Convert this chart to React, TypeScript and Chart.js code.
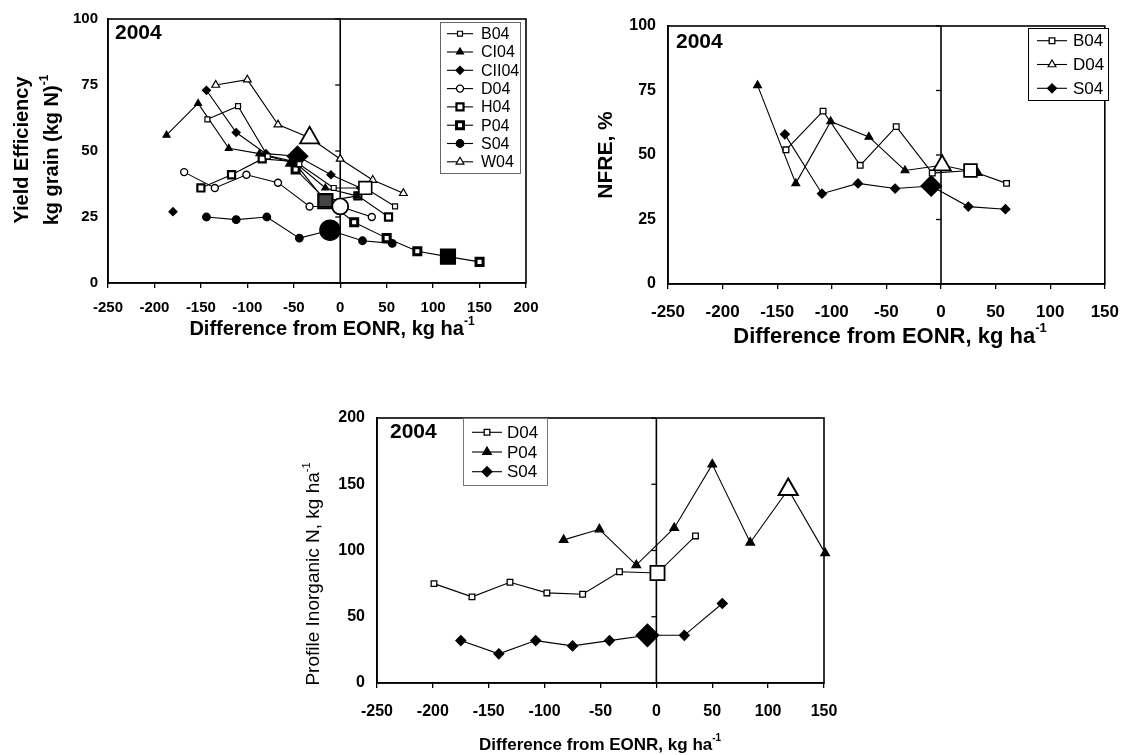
import React, { useEffect, useRef } from "react";
import { Chart, registerables } from "chart.js";
import { drawPoint } from "chart.js/helpers";

Chart.register(...registerables);

const FONT = '"Liberation Sans", Arial, Helvetica, sans-serif';

// ---------------- Panel A : Yield efficiency ----------------
const aXTicks = [-250, -200, -150, -100, -50, 0, 50, 100, 150, 200];
const aYTicks = [0, 25, 50, 75, 100];
const aB04X = [-143, -110, -78, -44, -7, 27, 59];
const aB04Y = [62, 67, 48, 45, 36, 36, 29];
const aB04Eonr = 5;
const aCI04X = [-187, -153, -120, -87, -50, -16, 18];
const aCI04Y = [56, 68, 51, 49, 46, 36, 33];
const aCI04Eonr = 4;
const aCII04X = [-180, -162, -144, -112, -80, -46, -10, 22];
const aCII04Y = [27, null, 73, 57, 49, 48, 41, 36];
const aCII04Eonr = 5;
const aD04X = [-168, -135, -101, -67, -33, 0, 34];
const aD04Y = [42, 36, 41, 38, 29, 29, 25];
const aD04Eonr = 5;
const aH04X = [-150, -117, -84, -50, -16, 19, 52];
const aH04Y = [36, 41, 47, 46, 31, 33, 25];
const aH04Eonr = 4;
const aP04X = [-48, -14, 15, 50, 83, 116, 150];
const aP04Y = [43, 31, 23, 17, 12, 10, 8];
const aP04Eonr = 5;
const aS04X = [-144, -112, -79, -44, -11, 24, 56];
const aS04Y = [25, 24, 25, 17, 20, 16, 15];
const aS04Eonr = 4;
const aW04X = [-134, -100, -67, -33, 0, 35, 68];
const aW04Y = [75, 77, 60, 55, 47, 39, 34];
const aW04Eonr = 3;

// ---------------- Panel B : NFRE ----------------
const bXTicks = [-250, -200, -150, -100, -50, 0, 50, 100, 150];
const bYTicks = [0, 25, 50, 75, 100];
const bB04X = [-142, -108, -74, -41, -8, 27, 60];
const bB04Y = [52, 67, 46, 61, 43, 44, 39];
const bB04Eonr = 5;
const bD04X = [-168, -133, -101, -66, -33, 1, 34];
const bD04Y = [77, 39, 63, 57, 44, 46, 43];
const bD04Eonr = 5;
const bS04X = [-143, -109, -76, -42, -9, 25, 59];
const bS04Y = [58, 35, 39, 37, 38, 30, 29];
const bS04Eonr = 4;

// ---------------- Panel C : Profile inorganic N ----------------
const cXTicks = [-250, -200, -150, -100, -50, 0, 50, 100, 150];
const cYTicks = [0, 50, 100, 150, 200];
const cD04X = [-199, -165, -131, -98, -66, -33, 1, 35];
const cD04Y = [75, 65, 76, 68, 67, 84, 83, 111];
const cD04Eonr = 6;
const cP04X = [-83, -51, -18, 16, 50, 84, 118, 151];
const cP04Y = [108, 116, 89, 117, 165, 106, 146, 98];
const cP04Eonr = 6;
const cS04X = [-175, -141, -108, -75, -42, -8, 25, 59];
const cS04Y = [32, 22, 32, 28, 32, 36, 36, 60];
const cS04Eonr = 5;

type Style = {
  shape: string;
  r: number;
  bigR: number;
  fill: string;
  bigFill: string;
  bw: number;
  bigBw: number;
};

const st = (shape: string, r: number, bigR: number, fill: string, bigFill: string, bw = 1.2, bigBw = 1.6): Style => ({
  shape, r, bigR, fill, bigFill, bw, bigBw,
});

function series(label: string, xs: number[], ys: (number | null)[], eonr: number, s: Style) {
  const data = xs.map((x, i) => ({ x, y: ys[i] }));
  return {
    label,
    data,
    showLine: true,
    borderColor: "#000",
    borderWidth: 1.1,
    tension: 0,
    spanGaps: false,
    clip: false,
    pointStyle: s.shape,
    pointRadius: data.map((_, i) => (i === eonr ? s.bigR : s.r)),
    pointHoverRadius: data.map((_, i) => (i === eonr ? s.bigR : s.r)),
    pointBackgroundColor: data.map((_, i) => (i === eonr ? s.bigFill : s.fill)),
    pointBorderColor: "#000",
    pointBorderWidth: data.map((_, i) => (i === eonr ? s.bigBw : s.bw)),
  };
}

type Part = { t: string; sup?: boolean };
type TitleCfg = { parts: Part[]; x: number; y: number; size: number; weight: string; rotate?: boolean };

function drawRich(ctx: CanvasRenderingContext2D, t: TitleCfg) {
  ctx.save();
  ctx.translate(t.x, t.y);
  if (t.rotate) ctx.rotate(-Math.PI / 2);
  const main = `${t.weight} ${t.size}px ${FONT}`;
  const sup = `${t.weight} ${Math.round(t.size * 0.6)}px ${FONT}`;
  let total = 0;
  const widths = t.parts.map((p) => {
    ctx.font = p.sup ? sup : main;
    const w = ctx.measureText(p.t).width;
    total += w;
    return w;
  });
  let cx = -total / 2;
  ctx.textAlign = "left";
  ctx.textBaseline = "middle";
  ctx.fillStyle = "#000";
  t.parts.forEach((p, i) => {
    ctx.font = p.sup ? sup : main;
    ctx.fillText(p.t, cx, p.sup ? -t.size * 0.38 : 0);
    cx += widths[i];
  });
  ctx.restore();
}

type LegendCfg = {
  box: { x: number; y: number; w: number; h: number };
  border: string;
  y0: number;
  dy: number;
  x1: number;
  x2: number;
  tx: number;
  size: number;
  items: { label: string; s: Style }[];
};

type DecorCfg = {
  yTicks: number[];
  year: { x: number; y: number; size: number };
  legend: LegendCfg;
  titles: TitleCfg[];
};

function decorPlugin(cfg: DecorCfg) {
  return {
    id: "decor",
    beforeDatasetsDraw(chart: any) {
      const ctx: CanvasRenderingContext2D = chart.ctx;
      const { left, right, top, bottom } = chart.chartArea;
      const xs = chart.scales.x;
      const ys = chart.scales.y;
      ctx.save();
      ctx.strokeStyle = "#000";
      ctx.lineWidth = 1.6;
      ctx.strokeRect(left, top, right - left, bottom - top);
      const x0 = xs.getPixelForValue(0);
      ctx.beginPath();
      ctx.moveTo(x0, top);
      ctx.lineTo(x0, bottom);
      ctx.stroke();
      ctx.lineWidth = 1.3;
      cfg.yTicks.forEach((v) => {
        const y = ys.getPixelForValue(v);
        ctx.beginPath();
        ctx.moveTo(x0 - 5, y);
        ctx.lineTo(x0, y);
        ctx.stroke();
      });
      ctx.restore();
    },
    afterDatasetsDraw(chart: any) {
      const ctx: CanvasRenderingContext2D = chart.ctx;
      ctx.save();
      ctx.fillStyle = "#000";
      ctx.font = `bold ${cfg.year.size}px ${FONT}`;
      ctx.textAlign = "left";
      ctx.textBaseline = "middle";
      ctx.fillText("2004", cfg.year.x, cfg.year.y);
      const L = cfg.legend;
      ctx.fillStyle = "#fff";
      ctx.fillRect(L.box.x, L.box.y, L.box.w, L.box.h);
      ctx.strokeStyle = L.border;
      ctx.lineWidth = 1;
      ctx.strokeRect(L.box.x + 0.5, L.box.y + 0.5, L.box.w, L.box.h);
      L.items.forEach((it, i) => {
        const y = L.y0 + i * L.dy;
        ctx.strokeStyle = "#000";
        ctx.lineWidth = 1.1;
        ctx.beginPath();
        ctx.moveTo(L.x1, y);
        ctx.lineTo(L.x2, y);
        ctx.stroke();
        ctx.fillStyle = it.s.fill;
        ctx.strokeStyle = "#000";
        ctx.lineWidth = it.s.bw;
        drawPoint(ctx, { pointStyle: it.s.shape as any, radius: it.s.r, borderWidth: it.s.bw, rotation: 0 } as any, (L.x1 + L.x2) / 2, y);
        ctx.fillStyle = "#000";
        ctx.font = `${L.size}px ${FONT}`;
        ctx.textAlign = "left";
        ctx.textBaseline = "middle";
        ctx.fillText(it.label, L.tx, y + 1);
      });
      ctx.restore();
      cfg.titles.forEach((t) => drawRich(ctx, t));
    },
  };
}

function scalesFor(xTicks: number[], yTicks: number[], xFont: number, yFont: number, xPad: number, yPad: number) {
  return {
    x: {
      type: "linear",
      min: xTicks[0],
      max: xTicks[xTicks.length - 1],
      afterBuildTicks: (s: any) => {
        s.ticks = xTicks.map((v) => ({ value: v }));
      },
      afterFit: (s: any) => {
        s.height = 40;
      },
      ticks: {
        color: "#000",
        font: { family: FONT, size: xFont, weight: "bold" },
        padding: xPad,
        maxRotation: 0,
        minRotation: 0,
        autoSkip: false,
        callback: (v: any) => String(v),
      },
      grid: { display: true, drawOnChartArea: false, drawTicks: true, tickLength: 5, color: "#000", lineWidth: 1.3 },
      border: { display: true, color: "#000", width: 1.6 },
    },
    y: {
      type: "linear",
      min: yTicks[0],
      max: yTicks[yTicks.length - 1],
      afterBuildTicks: (s: any) => {
        s.ticks = yTicks.map((v) => ({ value: v }));
      },
      afterFit: (s: any) => {
        s.width = 60;
      },
      ticks: {
        color: "#000",
        font: { family: FONT, size: yFont, weight: "bold" },
        padding: yPad,
        autoSkip: false,
        callback: (v: any) => String(v),
      },
      grid: { display: false, drawTicks: false },
      border: { display: true, color: "#000", width: 1.6 },
    },
  };
}

function baseOptions(area: { left: number; top: number; right: number; bottom: number }, scales: any) {
  return {
    responsive: false,
    animation: false,
    devicePixelRatio: 1,
    events: [],
    layout: {
      padding: { left: area.left - 60, top: area.top, right: 1132 - area.right, bottom: 755 - area.bottom - 40 },
    },
    plugins: { legend: { display: false }, tooltip: { enabled: false }, title: { display: false } },
    scales,
  };
}

const sup = (t: string): Part => ({ t, sup: true });

export default function App() {
  const refA = useRef<HTMLCanvasElement>(null);
  const refB = useRef<HTMLCanvasElement>(null);
  const refC = useRef<HTMLCanvasElement>(null);

  useEffect(() => {
    const charts: Chart[] = [];

    // ---- Panel A
    const sA = {
      B04: st("rect", 3.5, 9, "#fff", "#fff", 1.2, 1.6),
      CI04: st("triangle", 4, 9, "#000", "#000"),
      CII04: st("rectRot", 4, 10, "#000", "#000"),
      D04: st("circle", 3.5, 8, "#fff", "#fff", 1.4, 1.8),
      H04: st("rect", 5, 10, "#fff", "#444", 2.2, 2.2),
      P04: st("rect", 5, 10, "#fff", "#000", 3, 2),
      S04: st("circle", 3.8, 10, "#000", "#000"),
      W04: st("triangle", 4.5, 11, "#fff", "#fff", 1.2, 1.8),
    };
    const dsA = [
      series("B04", aB04X, aB04Y, aB04Eonr, sA.B04),
      series("CI04", aCI04X, aCI04Y, aCI04Eonr, sA.CI04),
      series("CII04", aCII04X, aCII04Y, aCII04Eonr, sA.CII04),
      series("D04", aD04X, aD04Y, aD04Eonr, sA.D04),
      series("H04", aH04X, aH04Y, aH04Eonr, sA.H04),
      series("P04", aP04X, aP04Y, aP04Eonr, sA.P04),
      series("S04", aS04X, aS04Y, aS04Eonr, sA.S04),
      series("W04", aW04X, aW04Y, aW04Eonr, sA.W04),
    ];
    const areaA = { left: 108, top: 15, right: 526, bottom: 283 };
    charts.push(
      new Chart(refA.current!, {
        type: "scatter",
        data: { datasets: dsA as any },
        options: baseOptions(areaA, scalesFor(aXTicks, aYTicks, 15, 15, 11, 10)) as any,
        plugins: [
          decorPlugin({
            yTicks: aYTicks,
            year: { x: 115, y: 33, size: 21 },
            legend: {
              box: { x: 440, y: 22, w: 80, h: 151 },
              border: "#666",
              y0: 33.7,
              dy: 18.3,
              x1: 447,
              x2: 473,
              tx: 481,
              size: 16,
              items: ["B04", "CI04", "CII04", "D04", "H04", "P04", "S04", "W04"].map((l) => ({ label: l, s: (sA as any)[l] })),
            },
            titles: [
              { parts: [{ t: "Yield Efficiency" }], x: 22, y: 150, size: 20, weight: "bold", rotate: true },
              { parts: [{ t: "kg grain (kg N)" }, sup("-1")], x: 52, y: 150, size: 20, weight: "bold", rotate: true },
              { parts: [{ t: "Difference from EONR, kg ha" }, sup("-1")], x: 332, y: 329, size: 20, weight: "bold" },
            ],
          }),
        ],
      })
    );

    // ---- Panel B
    const sB = {
      B04: st("rect", 4, 9, "#fff", "#fff", 1.3, 1.8),
      D04: st("triangle", 4.5, 10, "#000", "#fff", 1.2, 1.8),
      S04: st("rectRot", 4.5, 10, "#000", "#000"),
    };
    const dsB = [
      series("B04", bB04X, bB04Y, bB04Eonr, sB.B04),
      series("D04", bD04X, bD04Y, bD04Eonr, sB.D04),
      series("S04", bS04X, bS04Y, bS04Eonr, sB.S04),
    ];
    const areaB = { left: 668, top: 26, right: 1110, bottom: 284 };
    charts.push(
      new Chart(refB.current!, {
        type: "scatter",
        data: { datasets: dsB as any },
        options: baseOptions(areaB, scalesFor(bXTicks, bYTicks, 17, 16, 13, 12)) as any,
        plugins: [
          decorPlugin({
            yTicks: bYTicks,
            year: { x: 676, y: 42, size: 21 },
            legend: {
              box: { x: 1028, y: 28, w: 80, h: 72 },
              border: "#000",
              y0: 40.7,
              dy: 23.8,
              x1: 1037,
              x2: 1067,
              tx: 1073,
              size: 17,
              items: [
                { label: "B04", s: sB.B04 },
                { label: "D04", s: { ...sB.D04, fill: "#fff" } },
                { label: "S04", s: sB.S04 },
              ],
            },
            titles: [
              { parts: [{ t: "NFRE, %" }], x: 606, y: 155, size: 21, weight: "bold", rotate: true },
              { parts: [{ t: "Difference from EONR, kg ha" }, sup("-1")], x: 890, y: 337, size: 22, weight: "bold" },
            ],
          }),
        ],
      })
    );

    // ---- Panel C
    const sC = {
      D04: st("rect", 4, 10, "#fff", "#fff", 1.3, 1.8),
      P04: st("triangle", 5, 11, "#000", "#fff", 1.2, 2),
      S04: st("rectRot", 5, 11, "#000", "#000"),
    };
    const dsC = [
      series("D04", cD04X, cD04Y, cD04Eonr, sC.D04),
      series("P04", cP04X, cP04Y, cP04Eonr, sC.P04),
      series("S04", cS04X, cS04Y, cS04Eonr, sC.S04),
    ];
    const areaC = { left: 377, top: 418, right: 824, bottom: 683 };
    charts.push(
      new Chart(refC.current!, {
        type: "scatter",
        data: { datasets: dsC as any },
        options: baseOptions(areaC, scalesFor(cXTicks, cYTicks, 16, 16, 14, 12)) as any,
        plugins: [
          decorPlugin({
            yTicks: cYTicks,
            year: { x: 390, y: 432, size: 21 },
            legend: {
              box: { x: 463, y: 418, w: 84, h: 67 },
              border: "#777",
              y0: 432.3,
              dy: 19.7,
              x1: 472,
              x2: 502,
              tx: 507,
              size: 17,
              items: [
                { label: "D04", s: sC.D04 },
                { label: "P04", s: sC.P04 },
                { label: "S04", s: sC.S04 },
              ],
            },
            titles: [
              { parts: [{ t: "Profile Inorganic N, kg ha" }, sup("-1")], x: 314, y: 574, size: 19, weight: "normal", rotate: true },
              { parts: [{ t: "Difference from EONR, kg ha" }, sup("-1")], x: 600, y: 745, size: 17, weight: "bold" },
            ],
          }),
        ],
      })
    );

    return () => charts.forEach((c) => c.destroy());
  }, []);

  const cstyle: React.CSSProperties = { position: "absolute", left: 0, top: 0, width: 1132, height: 755 };
  return (
    <div style={{ position: "fixed", left: 0, top: 0, width: 1132, height: 755, background: "#fff" }}>
      <canvas ref={refA} width={1132} height={755} style={cstyle} />
      <canvas ref={refB} width={1132} height={755} style={cstyle} />
      <canvas ref={refC} width={1132} height={755} style={cstyle} />
    </div>
  );
}
